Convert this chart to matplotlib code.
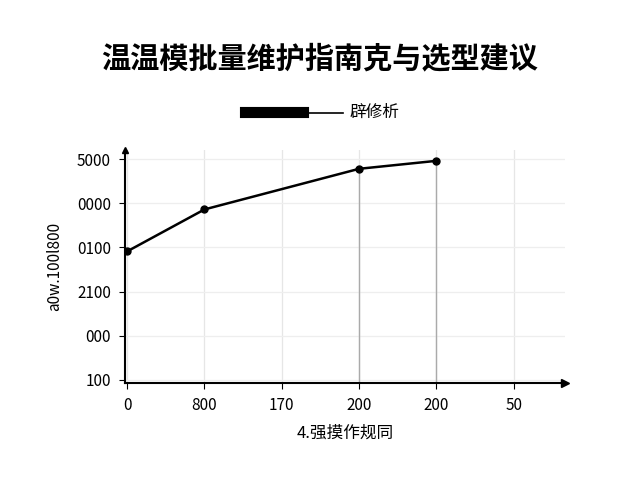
import matplotlib
matplotlib.use("Agg")
import matplotlib.pyplot as plt
from matplotlib.lines import Line2D

plt.rcParams['font.family'] = ['Noto Sans CJK SC', 'DejaVu Sans']

x_labels = ["0", "800", "170", "200", "200", "50"]
y_labels = ["100", "000", "2100", "0100", "0000", "5000"]
x_pos = [0, 1, 3, 4]
y_vals = [2.91, 3.86, 4.78, 4.96]

fig = plt.figure(figsize=(6.4, 4.8), dpi=100)
ax = fig.add_axes([0.195, 0.202, 0.6875, 0.485])
ax.set_xlim(-0.03, 5.66)
ax.set_ylim(-0.07, 5.2)

for i in range(len(x_labels)):
    ax.axvline(i, color="#e6e6e6", lw=0.9, zorder=0)
for j in range(len(y_labels)):
    ax.axhline(j, color="#eeeeee", lw=0.9, zorder=0)
for xp, yv in zip(x_pos[2:], y_vals[2:]):
    ax.plot([xp, xp], [-0.07, yv], color="#aaaaaa", lw=1.0, zorder=1)

ax.plot(x_pos, y_vals, color="black", lw=1.8, marker="o", ms=5, zorder=3)

ax.set_xticks(range(len(x_labels)))
ax.set_xticklabels(x_labels, fontsize=11)
ax.set_yticks(range(len(y_labels)))
ax.set_yticklabels(y_labels, fontsize=11)
ax.tick_params(length=4, width=0.8, pad=6)
for s in ["top", "right"]:
    ax.spines[s].set_visible(False)
for s in ["left", "bottom"]:
    ax.spines[s].set_linewidth(1.5)
ax.plot(1, 0, ">k", transform=ax.transAxes, clip_on=False, ms=6)
ax.plot(0, 1, "^k", transform=ax.transAxes, clip_on=False, ms=4)

ax.set_xlabel("4.强摸作规同", fontsize=12, labelpad=8)
ax.set_ylabel("a0w.100l800", fontsize=11, labelpad=10)

fig.text(0.5, 0.878, "温温模批量维护指南克与选型建议", ha="center", va="center",
         fontsize=21, fontweight="bold")
fig.add_artist(Line2D([245/640, 303/640], [1-112/480]*2, color="black", lw=8))
fig.add_artist(Line2D([303/640, 343/640], [1-113/480]*2, color="black", lw=1.2))
fig.text(350/640, 1-112/480, "辟修析", ha="left", va="center", fontsize=12)

fig.savefig("out.png", dpi=100, facecolor="white")
